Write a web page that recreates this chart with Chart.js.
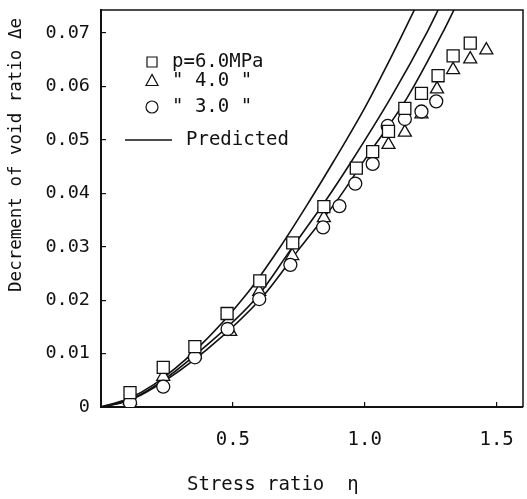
<!DOCTYPE html>
<html>
<head>
<meta charset="utf-8">
<script src="https://cdn.jsdelivr.net/npm/chart.js@4.4.1/dist/chart.umd.min.js"></script>
<style>
  html, body { margin: 0; padding: 0; background: #fff; }
  canvas { display: block; }
</style>
</head>
<body>
<canvas id="voidChart" width="527" height="499"></canvas>
<script>
// measured points, p = 6.0 MPa (squares)
const sqX = [0.11, 0.236, 0.356, 0.478, 0.602, 0.727, 0.845, 0.968, 1.03, 1.09, 1.152, 1.215, 1.278, 1.335, 1.40];
const sqY = [0.0027, 0.0074, 0.0113, 0.0175, 0.0236, 0.0307, 0.0375, 0.0447, 0.0478, 0.0516, 0.0559, 0.0587, 0.0620, 0.0657, 0.0681];
// p = 4.0 MPa (triangles)
const triX = [0.11, 0.236, 0.356, 0.49, 0.60, 0.725, 0.845, 1.09, 1.152, 1.215, 1.274, 1.335, 1.40, 1.461];
const triY = [0.0012, 0.0057, 0.0098, 0.0141, 0.0216, 0.0283, 0.0354, 0.0491, 0.0514, 0.0548, 0.0595, 0.0631, 0.0651, 0.0668];
// p = 3.0 MPa (circles)
const circX = [0.11, 0.236, 0.356, 0.48, 0.60, 0.718, 0.842, 0.904, 0.964, 1.03, 1.087, 1.152, 1.215, 1.271];
const circY = [0.0008, 0.0038, 0.0093, 0.0146, 0.0202, 0.0266, 0.0336, 0.0376, 0.0418, 0.0455, 0.0526, 0.0539, 0.0553, 0.0572];

// predicted curves
const pred6X = [0, 0.1, 0.2, 0.36, 0.55, 0.68, 0.79, 0.88, 1.0, 1.1, 1.19];
const pred6Y = [0, 0.0015, 0.0042, 0.0107, 0.0210, 0.0300, 0.0385, 0.0458, 0.0560, 0.0655, 0.0745];
const pred4X = [0, 0.1, 0.2, 0.38, 0.59, 0.72, 0.85, 0.95, 1.1, 1.24, 1.28];
const pred4Y = [0, 0.0012, 0.0038, 0.0107, 0.0205, 0.0295, 0.0385, 0.0460, 0.0580, 0.0705, 0.0745];
const pred3X = [0, 0.1, 0.2, 0.40, 0.61, 0.75, 0.90, 1.0, 1.16, 1.30, 1.34];
const pred3Y = [0, 0.0011, 0.0036, 0.0107, 0.0205, 0.0295, 0.0390, 0.0463, 0.0578, 0.0705, 0.0745];

const xTicks = [0.5, 1.0, 1.5];
const yTicks = [0, 0.01, 0.02, 0.03, 0.04, 0.05, 0.06, 0.07];

const seriesLabels = ['p=6.0MPa', '" 4.0 "', '" 3.0 "'];
const lineLabel = 'Predicted';
const xTitle = 'Stress ratio  \u03b7';
const yTitle = 'Decrement of void ratio \u0394e';

const MONO = '"DejaVu Sans Mono", "Liberation Mono", monospace';
const INK = '#111';

const toPoints = (xs, ys) => xs.map((x, i) => ({ x: x, y: ys[i] }));

const markerSet = (label, xs, ys, style, radius, order) => ({
  label: label,
  data: toPoints(xs, ys),
  showLine: false,
  pointStyle: style,
  pointRadius: radius,
  pointBackgroundColor: '#fff',
  pointBorderColor: INK,
  pointBorderWidth: 1.3,
  order: order
});

const curveSet = (xs, ys) => ({
  label: lineLabel,
  data: toPoints(xs, ys),
  showLine: true,
  borderColor: INK,
  borderWidth: 1.6,
  pointRadius: 0,
  cubicInterpolationMode: 'monotone',
  fill: false,
  order: 5
});

const drawMarker = (ctx, style, x, y, r) => {
  ctx.beginPath();
  if (style === 'rect') {
    ctx.rect(x - r, y - r, 2 * r, 2 * r);
  } else if (style === 'triangle') {
    ctx.moveTo(x, y - r * 1.1);
    ctx.lineTo(x + r, y + r * 0.75);
    ctx.lineTo(x - r, y + r * 0.75);
    ctx.closePath();
  } else {
    ctx.arc(x, y, r, 0, Math.PI * 2);
  }
  ctx.fill();
  ctx.stroke();
};

// frame, axis titles and the in-plot key
const decorations = {
  id: 'decorations',
  afterDraw(chart) {
    const { ctx, chartArea: a } = chart;
    ctx.save();
    ctx.strokeStyle = INK;
    ctx.lineWidth = 1.5;
    ctx.beginPath();
    ctx.moveTo(a.left, a.top);
    ctx.lineTo(a.right, a.top);
    ctx.lineTo(a.right, a.bottom);
    ctx.stroke();

    ctx.fillStyle = INK;
    ctx.textBaseline = 'middle';
    ctx.font = '19px ' + MONO;
    ctx.textAlign = 'left';
    ctx.fillText(xTitle, a.left + 86, a.bottom + 78);

    ctx.save();
    ctx.font = '17.5px ' + MONO;
    ctx.translate(16, a.top + 8);
    ctx.rotate(-Math.PI / 2);
    ctx.textAlign = 'right';
    ctx.fillText(yTitle, 0, 0);
    ctx.restore();

    // key
    const styles = ['rect', 'triangle', 'circle'];
    const rows = [52, 71, 97];
    ctx.fillStyle = '#fff';
    ctx.lineWidth = 1.2;
    styles.forEach((s, i) => drawMarker(ctx, s, a.left + 51, a.top + rows[i], s === 'rect' ? 5 : 6));
    ctx.fillStyle = INK;
    ctx.font = '19px ' + MONO;
    seriesLabels.forEach((t, i) => ctx.fillText(t, a.left + 71, a.top + rows[i]));
    ctx.lineWidth = 1.5;
    ctx.beginPath();
    ctx.moveTo(a.left + 24, a.top + 130);
    ctx.lineTo(a.left + 71, a.top + 130);
    ctx.stroke();
    ctx.fillText(lineLabel, a.left + 85, a.top + 130);
    ctx.restore();
  }
};

new Chart(document.getElementById('voidChart'), {
  type: 'scatter',
  data: {
    datasets: [
      markerSet(seriesLabels[0], sqX, sqY, 'rect', 8.5, 0),
      markerSet(seriesLabels[1], circX, circY, 'circle', 6.5, 1),
      markerSet(seriesLabels[2], triX, triY, 'triangle', 7.5, 2),
      curveSet(pred6X, pred6Y),
      curveSet(pred4X, pred4Y),
      curveSet(pred3X, pred3Y)
    ]
  },
  options: {
    responsive: false,
    devicePixelRatio: 1,
    animation: false,
    layout: { autoPadding: false, padding: { left: 0, right: 4, top: 10, bottom: 0 } },
    plugins: { legend: { display: false }, tooltip: { enabled: false } },
    scales: {
      x: {
        type: 'linear',
        min: 0,
        max: 1.6,
        afterBuildTicks: s => { s.ticks = xTicks.map(v => ({ value: v })); },
        afterFit: s => { s.height = 92; s.paddingLeft = 0; s.paddingRight = 0; },
        grid: { drawOnChartArea: false, drawTicks: true, tickLength: -5, color: INK, lineWidth: 1.2 },
        border: { display: true, color: INK, width: 2 },
        ticks: {
          padding: 27, color: INK, maxRotation: 0, autoSkip: false,
          font: { family: MONO, size: 19 },
          callback: v => v.toFixed(1)
        }
      },
      y: {
        type: 'linear',
        min: 0,
        max: 0.0743,
        afterBuildTicks: s => { s.ticks = yTicks.map(v => ({ value: v })); },
        afterFit: s => { s.width = 101; s.paddingTop = 0; s.paddingBottom = 0; },
        grid: { drawOnChartArea: false, drawTicks: true, tickLength: -5, color: INK, lineWidth: 1.2 },
        border: { display: true, color: INK, width: 2 },
        ticks: {
          padding: 16, color: INK, autoSkip: false,
          font: { family: MONO, size: 18.5 },
          callback: v => (v === 0 ? '0' : v.toFixed(2))
        }
      }
    }
  },
  plugins: [decorations]
});
</script>
</body>
</html>
